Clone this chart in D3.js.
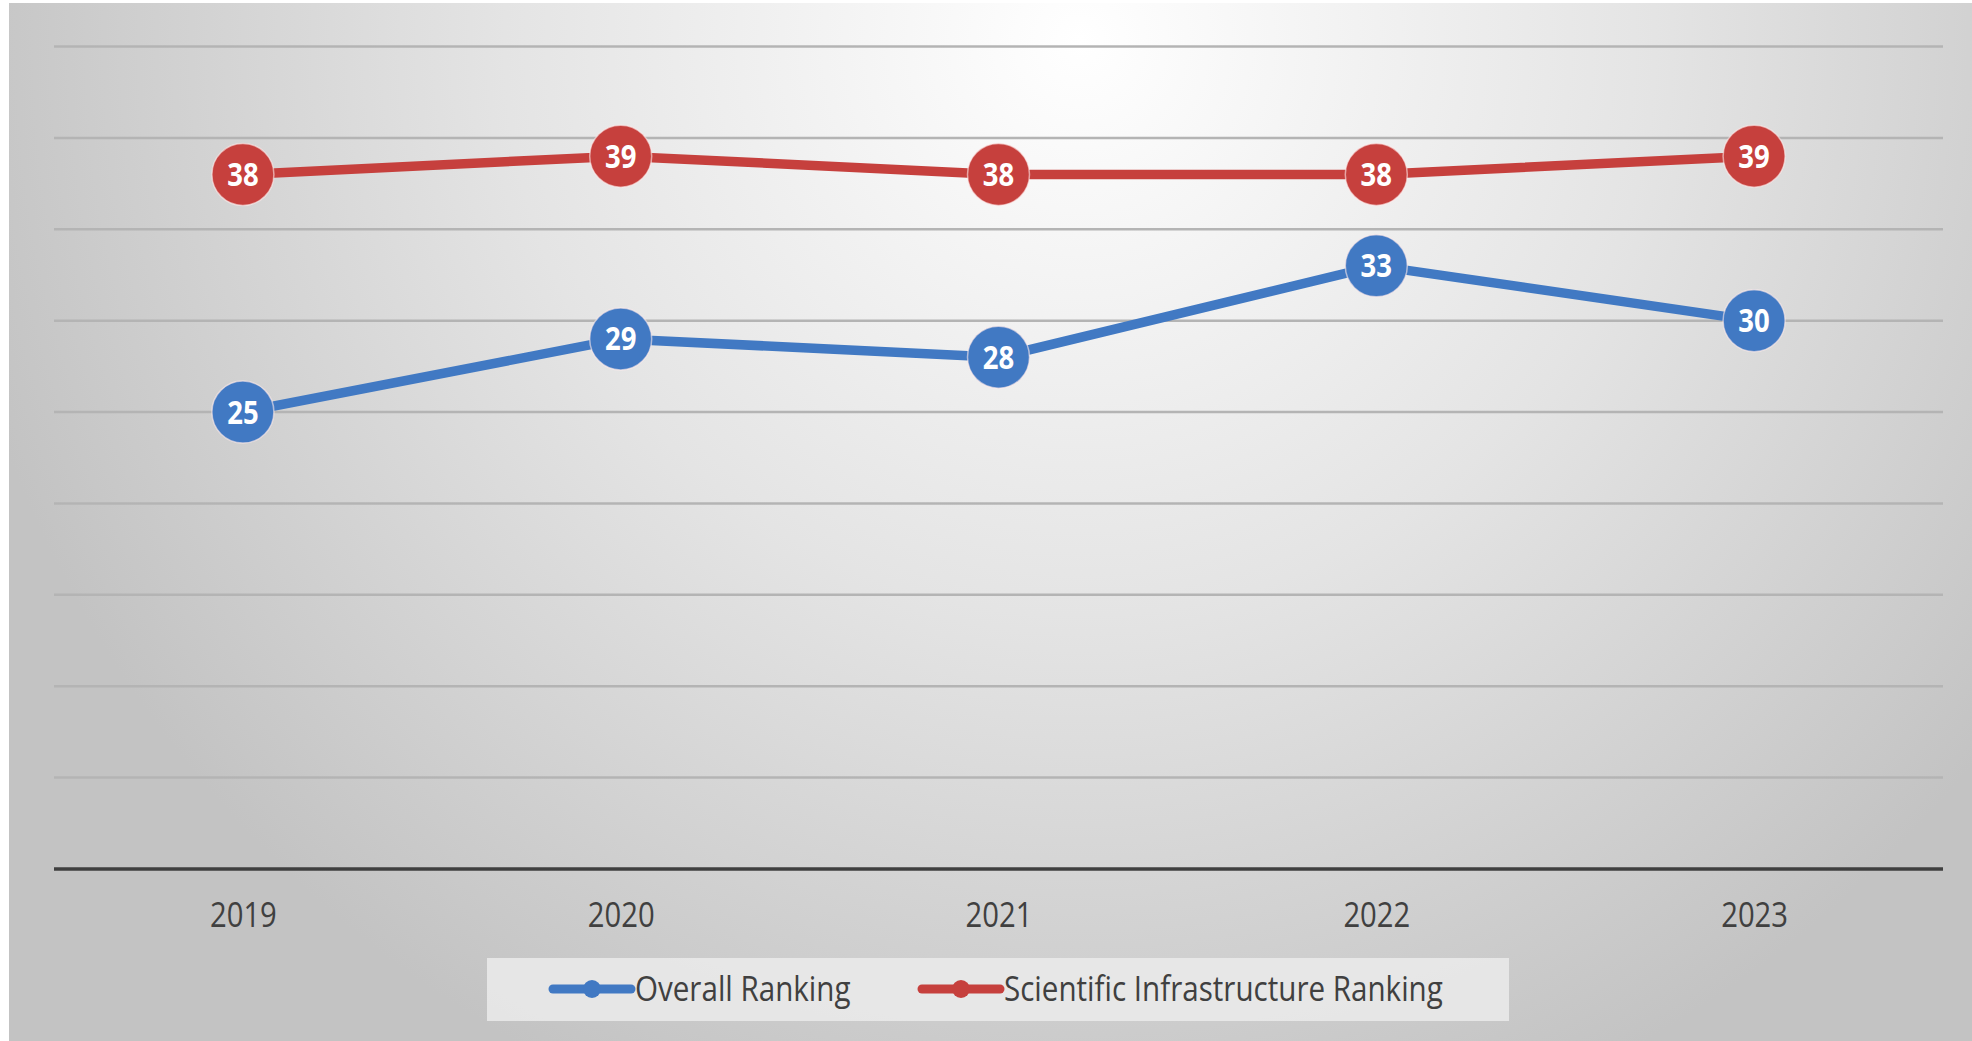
<!DOCTYPE html>
<html>
<head>
<meta charset="utf-8">
<script src="https://cdn.jsdelivr.net/npm/d3@7"></script>
<style>
  html, body { margin: 0; padding: 0; background: #fff; }
  svg { display: block; }
</style>
</head>
<body>
<svg id="chart" width="1972" height="1041"></svg>
<script>
var years = ["2019", "2020", "2021", "2022", "2023"];
var overall = [25, 29, 28, 33, 30];
var infra = [38, 39, 38, 38, 39];
var seriesNames = ["Overall Ranking", "Scientific Infrastructure Ranking"];
var seriesColors = ["#4179c3", "#c6403d"];
var yTicks = [0, 5, 10, 15, 20, 25, 30, 35, 40, 45];

var font = "'Open Sans', 'Liberation Sans', sans-serif";

var svg = d3.select("#chart");
var defs = svg.append("defs");

var bg = defs.append("radialGradient")
    .attr("id", "bg")
    .attr("gradientUnits", "userSpaceOnUse")
    .attr("cx", 1080).attr("cy", 40).attr("r", 1150);
bg.append("stop").attr("offset", "0%").attr("stop-color", "#ffffff");
bg.append("stop").attr("offset", "50%").attr("stop-color", "#e4e4e4");
bg.append("stop").attr("offset", "100%").attr("stop-color", "#c3c3c3");

svg.append("rect")
    .attr("x", 9).attr("y", 3)
    .attr("width", 1963).attr("height", 1038)
    .attr("fill", "url(#bg)");

var x = d3.scalePoint()
    .domain(years)
    .range([54, 1943])
    .padding(0.5);

var y = d3.scaleLinear()
    .domain([0, 45])
    .range([869, 46.5]);

// gridlines
svg.append("g")
    .attr("class", "grid")
    .selectAll("line")
    .data(yTicks.slice(1))
    .enter().append("line")
    .attr("x1", 54).attr("x2", 1943)
    .attr("y1", function(d) { return y(d); })
    .attr("y2", function(d) { return y(d); })
    .attr("stroke", "#b4b4b4")
    .attr("stroke-width", 2.5);

// x axis
var xAxis = svg.append("g")
    .attr("transform", "translate(0," + y(0) + ")")
    .call(d3.axisBottom(x).tickSize(0).tickPadding(0));
xAxis.select(".domain")
    .attr("d", "M54,0H1943")
    .attr("stroke", "#3f3f3f")
    .attr("stroke-width", 3.5);
xAxis.selectAll(".tick text")
    .attr("font-family", font)
    .attr("font-size", 34)
    .attr("fill", "#404040")
    .attr("dy", 0)
    .attr("transform", "translate(0,58) scale(0.86,1)");

var series = [overall, infra];

var line = d3.line()
    .x(function(d, i) { return x(years[i]); })
    .y(function(d) { return y(d); });

series.forEach(function(vals, s) {
    var g = svg.append("g").attr("class", "series-" + s);
    g.append("path")
        .datum(vals)
        .attr("d", line)
        .attr("fill", "none")
        .attr("stroke", seriesColors[s])
        .attr("stroke-width", 9.5)
        .attr("stroke-linejoin", "round");

    var pts = g.selectAll("g.pt")
        .data(vals)
        .enter().append("g")
        .attr("class", "pt")
        .attr("transform", function(d, i) {
            return "translate(" + x(years[i]) + "," + y(d) + ")";
        });
    pts.append("circle")
        .attr("r", 31)
        .attr("fill", seriesColors[s])
        .attr("stroke", "rgba(255,235,235,0.6)")
        .attr("stroke-width", 1.5);
    pts.append("text")
        .attr("text-anchor", "middle")
        .attr("dy", "0.36em")
        .attr("transform", "scale(0.86,1)")
        .attr("font-family", font)
        .attr("font-weight", "bold")
        .attr("font-size", 32)
        .attr("fill", "#ffffff")
        .text(function(d) { return d; });
});

// legend
var legend = svg.append("g").attr("class", "legend");
legend.append("rect")
    .attr("x", 487).attr("y", 958)
    .attr("width", 1022).attr("height", 63)
    .attr("fill", "#ebebeb")
    .attr("fill-opacity", 0.85);

var legendX = [553, 922];
seriesNames.forEach(function(name, s) {
    var lg = legend.append("g")
        .attr("transform", "translate(" + legendX[s] + ",989)");
    lg.append("line")
        .attr("x1", 0).attr("x2", 78)
        .attr("stroke", seriesColors[s])
        .attr("stroke-width", 9)
        .attr("stroke-linecap", "round");
    lg.append("circle")
        .attr("cx", 39).attr("r", 9)
        .attr("fill", seriesColors[s]);
    lg.append("text")
        .attr("x", 82 / 0.87)
        .attr("dy", "0.36em")
        .attr("transform", "scale(0.87,1)")
        .attr("font-family", font)
        .attr("font-size", 34)
        .attr("fill", "#404040")
        .text(name);
});
</script>
</body>
</html>
